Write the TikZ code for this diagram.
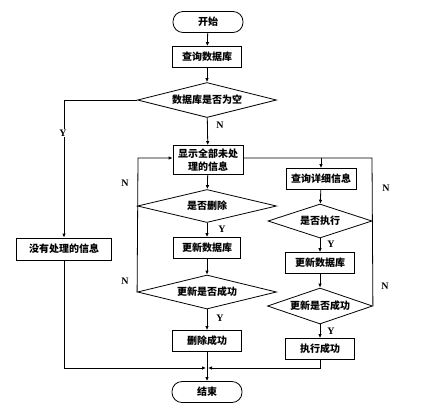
\documentclass[tikz,border=0pt]{standalone}
\usepackage{fontspec}
\setmainfont{Liberation Serif}
\newfontfamily\cjk{Noto Sans CJK SC}
\usetikzlibrary{arrows.meta,shapes.geometric}

\begin{document}
\begin{tikzpicture}[x=1pt,y=-1pt,line width=0.8pt,
  font=\cjk\bfseries\fontsize{10}{12.5}\selectfont,
  box/.style={draw,minimum width=69pt,minimum height=21pt,inner sep=1pt},
  term/.style={draw,rounded corners=10pt,minimum width=70pt,minimum height=21pt},
  cond/.style={draw,diamond,aspect=4,inner sep=0pt,minimum width=139pt,minimum height=34pt},
  yn/.style={font=\rmfamily\bfseries\fontsize{10}{11}\selectfont},
  arr/.style={-{Latex[length=4pt,width=3.5pt]}}]
\useasboundingbox (0,0) rectangle (422,408);
% main column
\node[term] (start) at (208,22) {开始};
\node[box] (query) at (207,57) {查询数据库};
\node[cond,minimum height=35pt] (empty) at (207,100) {数据库是否为空};
\node[box,minimum width=70pt,minimum height=29pt,align=center] (show) at (208,160) {显示全部未处\\理的信息};
\node[cond,minimum height=33pt] (del) at (207,206) {是否删除};
\node[box,minimum width=67pt] (upd1) at (207,248) {更新数据库};
\node[cond] (ok1) at (207,292) {更新是否成功};
\node[box] (dok) at (207,341) {删除成功};
\node[term] (end) at (207,392) {结束};
% left branch
\node[box,minimum width=95pt,minimum height=22pt] (none) at (64,249) {没有处理的信息};
% right column
\node[box,minimum width=70pt] (detail) at (321,179) {查询详细信息};
\node[cond,minimum width=104pt] (exec) at (320,221) {是否执行};
\node[box] (upd2) at (320,263) {更新数据库};
\node[cond,minimum width=105pt,minimum height=36pt] (ok2) at (320,306) {更新是否成功};
\node[box] (eok) at (320,349) {执行成功};

\coordinate (loopL) at (138,158);
\coordinate (loopR) at (372,158);
\coordinate (merge) at (207,368);

\draw[arr] (start) -- (query);
\draw[arr] (query) -- (empty);
\draw[arr] (empty) -- (show);
\draw[arr] (empty.west) -| (none.north);
\draw[arr] (show) -- (del);
\draw[arr] (del) -- (upd1);
\draw[arr] (upd1) -- (ok1);
\draw[arr] (ok1) -- (dok);
\draw[arr] (dok) -- (end);
\draw[arr] (ok1.west) -- (loopL) -- (loopL -| show.west);
\draw (del.west) -- (del.west -| loopL);
\draw (show.east |- loopR) -- (loopR) -- (ok2.east);
\draw[arr] (detail.north |- loopR) -- (detail);
\draw[arr] (detail) -- (exec);
\draw[arr] (exec) -- (upd2);
\draw[arr] (upd2) -- (ok2);
\draw[arr] (ok2) -- (eok);
\draw[arr,shorten >=1pt] (none.south) |- (merge);
\draw[arr,shorten >=1pt] (eok.south) |- (merge);

\node[yn,fill=white,inner sep=1pt] (yEmpty) at (63,133) {Y};
\node[yn] (nEmpty) at (220,125) {N};
\node[yn] (yDel) at (222,229) {Y};
\node[yn] (yOk1) at (220,318) {Y};
\node[yn] (nDel) at (125,183) {N};
\node[yn] (nOk1) at (125,281) {N};
\node[yn] (yExec) at (331,244) {Y};
\node[yn] (yOk2) at (331,331) {Y};
\node[yn] (nExec) at (386,188) {N};
\node[yn] (nOk2) at (385,286) {N};
\end{tikzpicture}
\end{document}
